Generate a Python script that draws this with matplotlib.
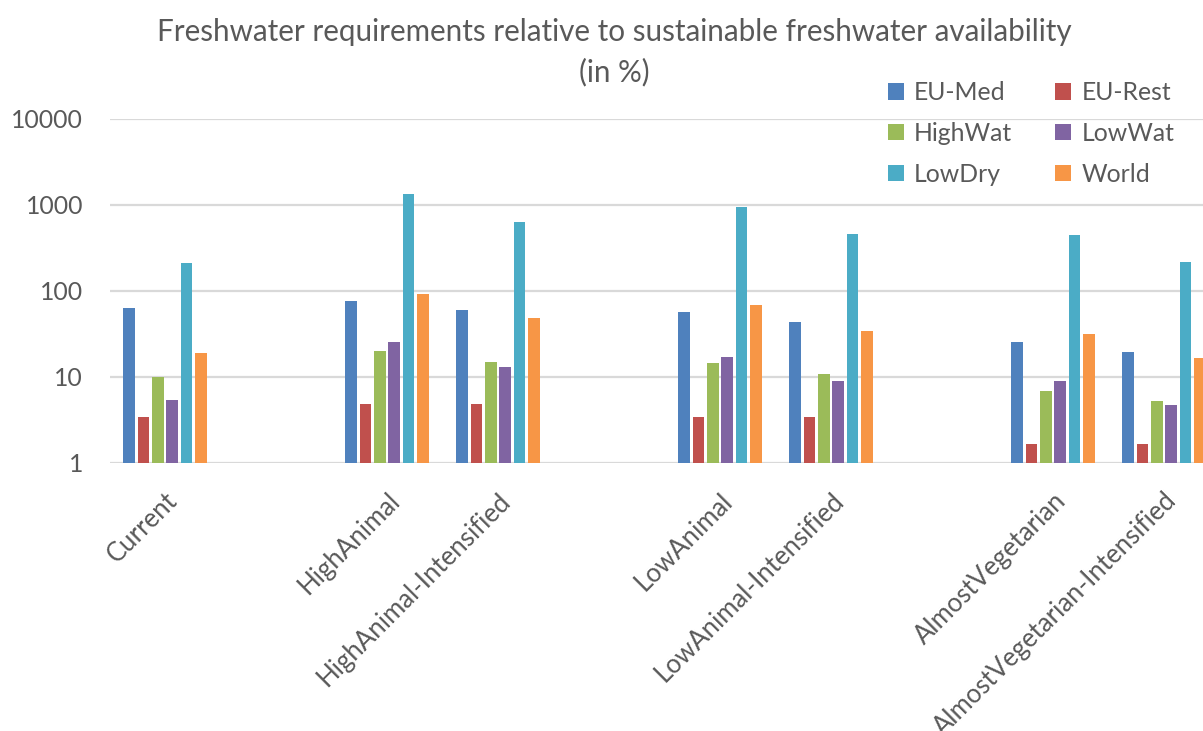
import matplotlib
matplotlib.use("Agg")
import matplotlib.pyplot as plt
import numpy as np

# Scenarios (diet variants) and regional freshwater requirement (% of sustainable availability)
scenarios = ["Current", "HighAnimal", "HighAnimal-Intensified", "LowAnimal",
             "LowAnimal-Intensified", "AlmostVegetarian", "AlmostVegetarian-Intensified"]
regions = ["EU-Med", "EU-Rest", "HighWat", "LowWat", "LowDry", "World"]

eu_med = [63, 77, 60, 57, 44, 25.7, 19.7]
eu_rest = [3.4, 4.8, 4.8, 3.4, 3.4, 1.66, 1.66]
high_wat = [10, 20, 15, 14.4, 10.8, 6.9, 5.2]
low_wat = [5.4, 25.5, 13.2, 17.2, 9.0, 9.1, 4.7]
low_dry = [212, 1330, 634, 955, 464, 452, 216]
world = [19, 92, 48, 68, 34, 32, 16.5]

series = [eu_med, eu_rest, high_wat, low_wat, low_dry, world]
colors = ["#4F81BD", "#C0504D", "#9BBB59", "#8064A2", "#4BACC6", "#F79646"]

text_color = "#595959"
grid_color = "#D9D9D9"
plt.rcParams["font.family"] = ["Lato", "DejaVu Sans"]

W, H = 1203, 731
fig = plt.figure(figsize=(W / 100, H / 100), dpi=100)

# an empty slot separates each diet family from the next
xs = []
pos = -1
for name in scenarios:
    pos += 1 if (name.endswith("-Intensified") or not xs) else 2
    xs.append(pos)
xs = np.array(xs, dtype=float)
n_slots = 11

cat_px = 111.0
left_px, bottom_px, top_px = 109.5, 463.0, 119.0
ax = fig.add_axes([left_px / W, 1 - bottom_px / H,
                   n_slots * cat_px / W, (bottom_px - top_px) / H])

slot = 0.129
bar_w = 0.106
n = len(series)
for i, (vals, col, lab) in enumerate(zip(series, colors, regions)):
    offs = (i - (n - 1) / 2) * slot
    ax.bar(xs + offs, vals, width=bar_w, color=col, label=lab, zorder=3)

ax.set_yscale("log")
ax.set_ylim(1, 10000)
ax.set_xlim(-0.5, n_slots - 0.5)
ax.set_yticks([1, 10, 100, 1000, 10000])
ax.set_yticklabels(["1", "10", "100", "1000", "10000"])
ax.minorticks_off()
ax.yaxis.grid(True, color=grid_color, linewidth=1.6, zorder=0)
for s in ["left", "right", "top", "bottom"]:
    ax.spines[s].set_visible(False)
ax.tick_params(axis="y", length=0, pad=19, labelsize=17.8, labelcolor=text_color)
ax.tick_params(axis="x", length=0, pad=18, labelsize=18.5, labelcolor=text_color)
ax.set_xticks(xs)
ax.set_xticklabels(scenarios, rotation=45, ha="right", va="top",
                   rotation_mode="anchor")

fig.text(614 / W, 1 - 32 / H,
         "Freshwater requirements relative to sustainable freshwater availability",
         ha="center", va="center", fontsize=21.3, color=text_color)
fig.text(614 / W, 1 - 72 / H, "(in %)", ha="center", va="center",
         fontsize=21.3, color=text_color)

# legend entries run across the rows: EU-Med, EU-Rest / HighWat, LowWat / LowDry, World
handles, labels = ax.get_legend_handles_labels()
order = [0, 2, 4, 1, 3, 5]
leg = fig.legend([handles[k] for k in order], [labels[k] for k in order],
                 ncol=2, loc="upper left",
                 bbox_to_anchor=(888 / W, 1 - 81 / H), frameon=False,
                 fontsize=17.8, handlelength=0.65, handleheight=0.65,
                 handletextpad=0.4, columnspacing=1.75, labelspacing=0.72,
                 borderaxespad=0, borderpad=0)
for t in leg.get_texts():
    t.set_color(text_color)

fig.savefig("out.png", dpi=100)
